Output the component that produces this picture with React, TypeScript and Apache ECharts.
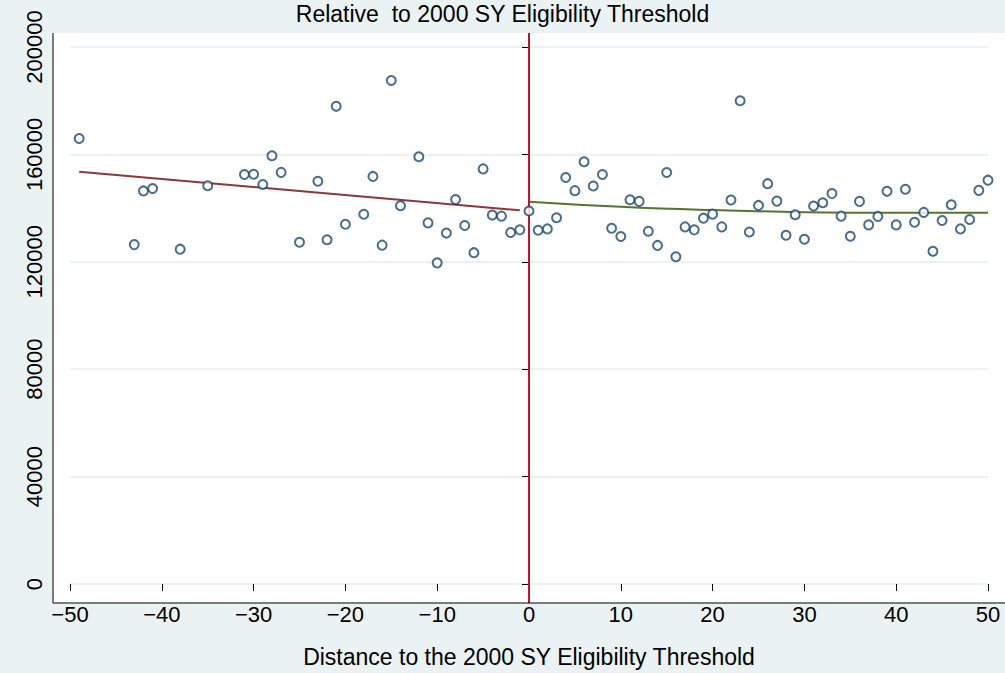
import { useEffect, useRef } from 'react';
import * as echarts from 'echarts';

const leftX = [-49, -43, -42, -41, -38, -35, -31, -30, -29, -28, -27, -25, -23, -22, -21, -20, -18, -17, -16, -15, -14, -12, -11, -10, -9, -8, -7, -6, -5, -4, -3, -2, -1];
const leftY = [165.9, 126.4, 146.4, 147.3, 124.7, 148.3, 152.5, 152.6, 148.8, 159.5, 153.3, 127.3, 150.0, 128.2, 177.9, 134.0, 137.7, 151.8, 126.2, 187.5, 140.9, 159.1, 134.5, 119.6, 130.7, 143.2, 133.5, 123.4, 154.6, 137.4, 137.0, 130.9, 131.9];
const rightY = [138.9, 131.75, 132.25, 136.4, 151.4, 146.5, 157.25, 148.25, 152.5, 132.5, 129.4, 143.1, 142.5, 131.4, 126.1, 153.25, 121.9, 133, 131.9, 136.25, 137.75, 133, 143, 180, 131.1, 141, 149.1, 142.6, 129.9, 137.5, 128.4, 140.75, 142, 145.4, 137, 129.5, 142.5, 133.75, 136.9, 146.25, 133.75, 147, 134.75, 138.4, 123.9, 135.4, 141.25, 132.25, 135.75, 146.6, 150.4];
const leftFitX = [-49, -1];
const leftFitY = [153.5, 139.2];
const rightFitX = [0, 10, 20, 30, 40, 50];
const rightFitY = [142.4, 140.5, 139.25, 138.5, 138.25, 138.25];
const xTicks = [-50, -40, -30, -20, -10, 0, 10, 20, 30, 40, 50];
const yTicks = [0, 40000, 80000, 120000, 160000, 200000];

const font = '"Liberation Sans", Arial, sans-serif';

export default function App() {
  const ref = useRef<HTMLDivElement | null>(null);

  useEffect(() => {
    if (!ref.current) return;
    const chart = echarts.init(ref.current, null, { renderer: 'svg' });
    const scatter = [
      ...leftX.map((x, i) => [x, leftY[i] * 1000]),
      ...rightY.map((y, i) => [i, y * 1000]),
    ];
    chart.setOption({
      animation: false,
      backgroundColor: '#eaf2f3',
      title: {
        text: 'Relative  to 2000 SY Eligibility Threshold',
        left: 'center',
        top: -3,
        textStyle: { fontFamily: font, fontWeight: 'normal', fontSize: 23, color: '#000' },
      },
      grid: { left: 70, right: 17, top: 47, bottom: 83 },
      xAxis: {
        type: 'value',
        min: xTicks[0],
        max: xTicks[xTicks.length - 1],
        interval: 10,
        offset: 13,
        name: 'Distance to the 2000 SY Eligibility Threshold',
        nameLocation: 'middle',
        nameGap: 48,
        nameTextStyle: { fontFamily: font, fontSize: 23, color: '#000' },
        axisLine: { show: false },
        axisTick: { show: true, length: 7, lineStyle: { color: '#000' } },
        axisLabel: {
          fontFamily: font, fontSize: 22, color: '#000', margin: 6,
          formatter: (v: number) => String(v).replace('-', '\u2212'),
        },
        splitLine: { show: false },
      },
      yAxis: {
        type: 'value',
        min: yTicks[0],
        max: yTicks[yTicks.length - 1],
        interval: 40000,
        offset: 17,
        axisLine: { show: false },
        axisTick: { show: true, length: 7, lineStyle: { color: '#000' } },
        axisLabel: {
          fontFamily: font, fontSize: 22, color: '#000', rotate: 90, margin: 8,
          formatter: (v: number) => String(v),
        },
        splitLine: { show: true, lineStyle: { color: '#eaf2f3', width: 2 } },
      },
      series: [
        {
          type: 'scatter',
          data: scatter,
          symbol: 'circle',
          symbolSize: 9,
          itemStyle: { color: '#fff', borderColor: '#1a476f', borderWidth: 2 },
          z: 5,
        },
        {
          type: 'line',
          data: leftFitX.map((x, i) => [x, leftFitY[i] * 1000]),
          showSymbol: false,
          lineStyle: { color: '#90353b', width: 2 },
          z: 3,
        },
        {
          type: 'line',
          data: rightFitX.map((x, i) => [x, rightFitY[i] * 1000]),
          showSymbol: false,
          smooth: true,
          lineStyle: { color: '#55752f', width: 2 },
          z: 3,
        },
      ],
    });
    const x0 = chart.convertToPixel({ gridIndex: 0 }, [0, 0])[0];
    chart.setOption({
      graphic: [
        { type: 'rect', shape: { x: 53, y: 33, width: 952, height: 570 }, style: { fill: '#fff' }, z: -10, silent: true },
        { type: 'line', shape: { x1: 53, y1: 33, x2: 53, y2: 603 }, style: { stroke: '#000', lineWidth: 1 }, z: 10 },
        { type: 'line', shape: { x1: 53, y1: 603, x2: 1005, y2: 603 }, style: { stroke: '#000', lineWidth: 1 }, z: 10 },
        { type: 'line', shape: { x1: x0, y1: 33, x2: x0, y2: 603 }, style: { stroke: '#c8102e', lineWidth: 2 }, z: 4 },
      ],
    });
    return () => chart.dispose();
  }, []);

  return <div ref={ref} style={{ position: 'fixed', left: 0, top: 0, width: 1005, height: 673 }} />;
}
